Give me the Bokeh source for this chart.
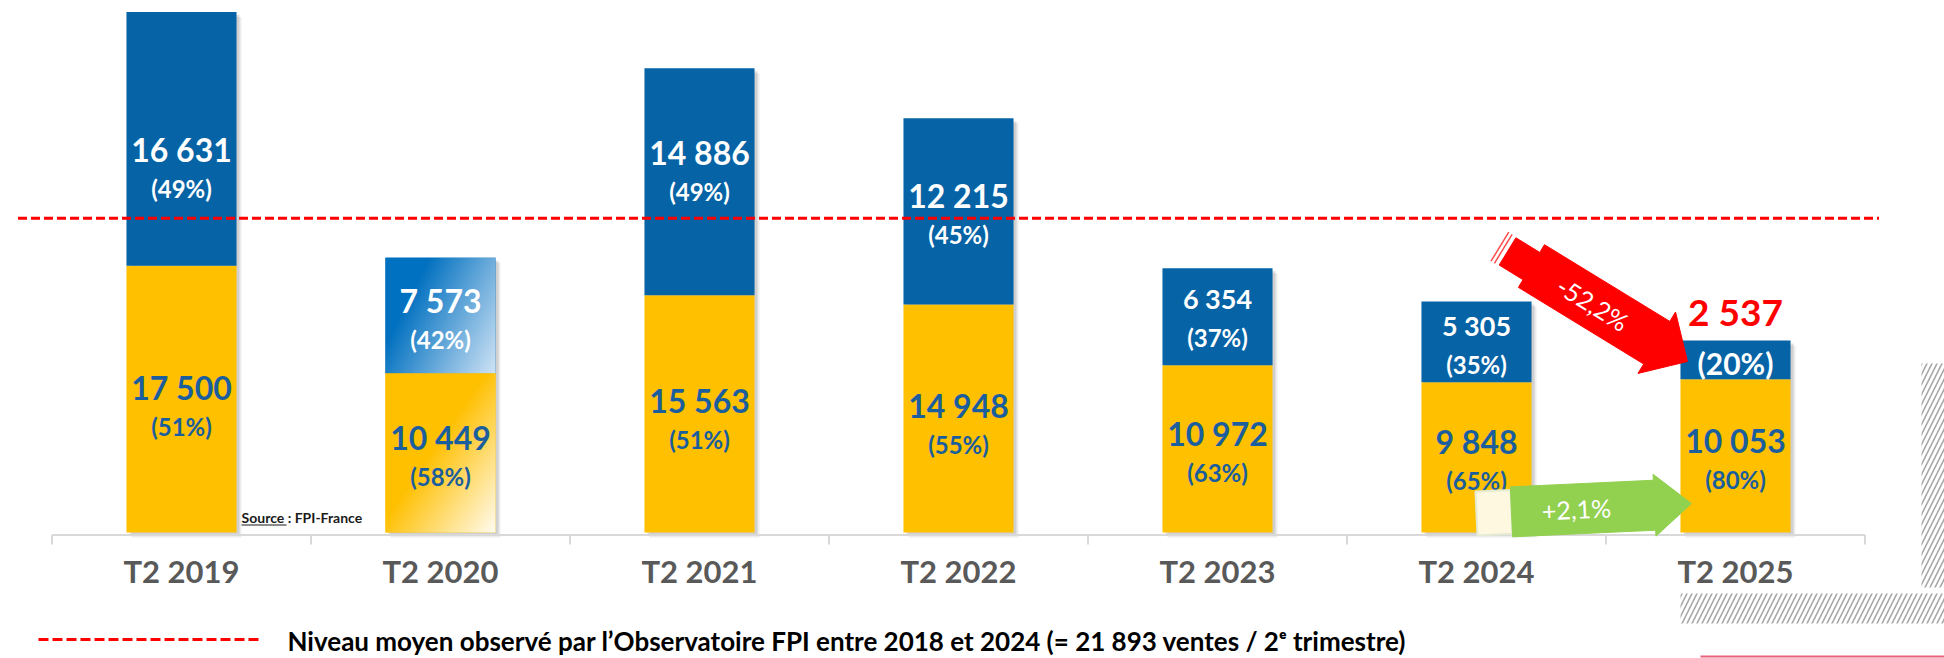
import numpy as np
from bokeh.plotting import figure
from bokeh.models import Range1d, ColumnDataSource
from bokeh.core.properties import value
from bokeh.embed import file_html
from bokeh.resources import INLINE

# ---------------- data ----------------
categories = ["T2 2019", "T2 2020", "T2 2021", "T2 2022", "T2 2023", "T2 2024", "T2 2025"]
ventes_accedants = [17500, 10449, 15563, 14948, 10972, 9848, 10053]      # yellow, bottom
ventes_investisseurs = [16631, 7573, 14886, 12215, 6354, 5305, 2537]     # blue, top
pct_accedants = [51, 58, 51, 55, 63, 65, 80]
pct_investisseurs = [49, 42, 49, 45, 37, 35, 20]
niveau_moyen_trace = 20600          # drawn level of the dashed line, as seen in the picture
evol_investisseurs = "-52,2%"
evol_accedants = "+2,1%"
source_text = "Source : FPI-France"
legend_text = "Niveau moyen observé par l’Observatoire FPI entre 2018 et 2024 (= 21 893 ventes / 2ᵉ trimestre)"

# ---------------- layout / style ----------------
W, H = 1944, 658
PAGE_X0, PAGE_Y0 = 0, 0     # Bokeh's page template has no body margin
PX_CAT = 259.0              # px per category
PX_PER_UNIT = 15.25 / 1000  # px per sale
CAT0_PAGE_X = 181.0
BASE_PAGE_Y = 532.0
BAR_W = 0.425

BLUE = "#0563A6"
YELLOW = "#FFC000"
NUM_ON_YELLOW = "#1B5E9E"
RED = "#FF0000"
GREEN = "#92D050"
FONT = value("Lato")


def dx(px):
    return px / PX_CAT


def dy(px):
    return px / PX_PER_UNIT


def page_x(d):
    return CAT0_PAGE_X + d * PX_CAT


def page_y(v):
    return BASE_PAGE_Y - v * PX_PER_UNIT


def from_page(px, py):
    return (px - CAT0_PAGE_X) / PX_CAT, (BASE_PAGE_Y - py) / PX_PER_UNIT


x_start = (PAGE_X0 - CAT0_PAGE_X) / PX_CAT
y_end = (BASE_PAGE_Y - PAGE_Y0) / PX_PER_UNIT

p = figure(width=W, height=H, output_backend="svg", toolbar_location=None,
           x_range=Range1d(x_start, x_start + W / PX_CAT),
           y_range=Range1d(y_end - H / PX_PER_UNIT, y_end),
           x_axis_location=None, y_axis_location=None, min_border=0)
p.outline_line_color = None
p.grid.visible = False
p.background_fill_color = "white"

xs = np.arange(len(categories), dtype=float)
yellow = np.array(ventes_accedants, dtype=float)
blue = np.array(ventes_investisseurs, dtype=float)
total = yellow + blue

# shadows
for off, a in [(5, 0.07), (3, 0.12)]:
    p.vbar(x=xs + dx(off), bottom=-dy(off), top=total - dy(off), width=BAR_W,
           fill_color="black", fill_alpha=a, line_color=None)

# stacked bars
p.vbar(x=xs, bottom=0, top=yellow, width=BAR_W, fill_color=YELLOW, line_color=None)
p.vbar(x=xs, bottom=yellow, top=total, width=BAR_W, fill_color=BLUE, line_color=None)


# gradient fill for T2 2020
def gradient_img(c0, c1, wu, wv, t0, span, nx=60, ny=160):
    u = np.linspace(0, 1, nx)[None, :]
    v = 1 - np.linspace(0, 1, ny)[:, None]     # row 0 = bottom
    t = np.clip((wu * u + wv * v - t0) / span, 0, 1)
    img = np.empty((ny, nx), dtype=np.uint32)
    view = img.view(dtype=np.uint8).reshape((ny, nx, 4))
    for k in range(3):
        view[..., k] = (c0[k] + (c1[k] - c0[k]) * t).astype(np.uint8)
    view[..., 3] = 255
    return img


gi = 1
img_blue = gradient_img((0, 112, 192), (206, 227, 245), 0.65, 0.35, 0.25, 0.75)
img_yel = gradient_img((255, 192, 0), (255, 251, 238), 0.5, 0.5, 0.45, 0.55)
p.image_rgba(image=[img_yel], x=xs[gi] - BAR_W / 2, y=0, dw=BAR_W, dh=yellow[gi])
p.image_rgba(image=[img_blue], x=xs[gi] - BAR_W / 2, y=yellow[gi], dw=BAR_W, dh=blue[gi])

# axis line and boundary ticks
p.segment(x0=[-0.5], y0=[-dy(2.5)], x1=[len(categories) - 0.5], y1=[-dy(2.5)],
          line_color="#D9D9D9", line_width=2)
edges = np.arange(len(categories) + 1) - 0.5
p.segment(x0=edges, y0=-dy(2.5), x1=edges, y1=-dy(12), line_color="#D9D9D9", line_width=2)

# average dashed line
p.segment(x0=[-0.5 - dx(34)], y0=[niveau_moyen_trace], x1=[len(categories) - 0.5 + dx(14)],
          y1=[niveau_moyen_trace], line_color=RED, line_width=3, line_dash="9 4")


def fmt(v):
    return f"{int(v):,}".replace(",", " ")


# ---------------- labels ----------------
blue_mid_frac = [0.62, 0.54, 0.46, 0.52, 0.52, 0.54, 0.58]
blue_num_px = [32, 32, 32, 32, 27, 27, 37]
lab = dict(x=[], y=[], text=[], size=[], color=[])


def add(x, y, t, s, c):
    lab["x"].append(x)
    lab["y"].append(y)
    lab["text"].append(t)
    lab["size"].append(f"{s}px")
    lab["color"].append(c)


last = len(categories) - 1
for i in range(len(categories)):
    ymid = 0.47 * yellow[i]
    add(xs[i], ymid + dy(20), fmt(yellow[i]), 32, NUM_ON_YELLOW)
    add(xs[i], ymid - dy(19), f"({pct_accedants[i]}%)", 24, NUM_ON_YELLOW)
    if i < last:
        bmid = total[i] - blue_mid_frac[i] * blue[i]
        add(xs[i], bmid + dy(20), fmt(blue[i]), blue_num_px[i], "white")
        add(xs[i], bmid - dy(19), f"({pct_investisseurs[i]}%)", 24, "white")
    else:
        add(xs[i], total[i] + dy(29), fmt(blue[i]), blue_num_px[i], RED)
        add(xs[i], total[i] - blue_mid_frac[i] * blue[i], f"({pct_investisseurs[i]}%)", 30, "white")

p.text(x="x", y="y", text="text", text_font_size="size", text_color="color",
       source=ColumnDataSource(lab), text_font=FONT, text_font_style="bold",
       text_align="center", text_baseline="middle")

# category labels
p.text(x=xs, y=[-dy(38)] * len(xs), text=categories, text_font=FONT, text_font_style="bold",
       text_font_size="31px", text_color="#595959", text_align="center", text_baseline="middle")

# source
sx = 0 + BAR_W / 2 + dx(5)
p.text(x=[sx], y=[dy(15)], text=[source_text], text_font=FONT, text_font_style="bold",
       text_font_size="14px", text_color="#1A1A1A", text_align="left", text_baseline="middle")
p.segment(x0=[sx], y0=[dy(7.5)], x1=[sx + dx(45)], y1=[dy(7.5)], line_color="#1A1A1A", line_width=1.2)


# ---------------- arrows ----------------
def arrow_poly(tail, tip, profile):
    tx, ty = tail
    vx, vy = tip[0] - tx, tip[1] - ty
    L = np.hypot(vx, vy)
    ux, uy = vx / L, vy / L
    nx, ny = -uy, ux
    xs_, ys_ = [], []
    for s, w in profile(L):
        px_ = tx + s * ux + w * nx
        py_ = ty + s * uy + w * ny
        dxv, dyv = from_page(px_, py_)
        xs_.append(dxv)
        ys_.append(dyv)
    return xs_, ys_, L, (ux, uy)


def red_profile(L):
    return [(0, -16), (28, -16), (28, -25), (L - 36, -25), (L - 36, -36), (L, 0),
            (L - 36, 36), (L - 36, 25), (28, 25), (28, 16), (0, 16)]


red_tail = (page_x(5 + BAR_W / 2) - 24, page_y(total[5]) - 50)
red_tip = (page_x(6 - BAR_W / 2) + 7, page_y(total[6]) + 21)
rx, ry, rL, (rux, ruy) = arrow_poly(red_tail, red_tip, red_profile)
p.patch(rx, ry, fill_color=RED, line_color=RED, line_width=1)
# tail stripes
for off in (-5, -9):
    sx0, sy0 = from_page(red_tail[0] + off * rux - 17 * (-ruy), red_tail[1] + off * ruy - 17 * rux)
    sx1, sy1 = from_page(red_tail[0] + off * rux + 17 * (-ruy), red_tail[1] + off * ruy + 17 * rux)
    p.segment(x0=[sx0], y0=[sy0], x1=[sx1], y1=[sy1], line_color=RED, line_width=1.5, line_alpha=0.7)
tx_, ty_ = from_page(red_tail[0] + 100 * rux, red_tail[1] + 100 * ruy)
p.text(x=[tx_], y=[ty_], text=[evol_investisseurs], angle=-np.arctan2(ruy, rux),
       text_font=FONT, text_font_size="25px", text_color="white",
       text_align="center", text_baseline="middle")


def green_profile(L):
    return [(35, -25), (L - 37, -25), (L - 37, -31), (L, 0), (L - 37, 31), (L - 37, 25), (35, 25)]


def pale_profile(L):
    return [(0, -22), (35, -22), (35, 22), (0, 22)]


g_tail = (page_x(5), page_y(0) - 19)
g_tip = (page_x(6 - BAR_W / 2) + 11, page_y(0) - 29)
px_, py_, gL, (gux, guy) = arrow_poly(g_tail, g_tip, pale_profile)
p.patch(px_, py_, fill_color="#FFF8E1", line_color="#E4EBD2", line_width=2)
gx, gy, gL, _ = arrow_poly(g_tail, g_tip, green_profile)
p.patch(gx, gy, fill_color=GREEN, line_color=GREEN, line_width=1)
tx_, ty_ = from_page(g_tail[0] + 100 * gux, g_tail[1] + 100 * guy)
p.text(x=[tx_], y=[ty_], text=[evol_accedants], angle=-np.arctan2(guy, gux),
       text_font=FONT, text_font_size="25px", text_color="white",
       text_align="center", text_baseline="middle")

# ---------------- legend at bottom ----------------
lx0, ly = from_page(38, 639)
lx1, _ = from_page(259, 639)
p.segment(x0=[lx0], y0=[ly], x1=[lx1], y1=[ly], line_color=RED, line_width=3, line_dash="10 4")
tx_, ty_ = from_page(287, 640)
p.text(x=[tx_], y=[ty_], text=[legend_text], text_font=FONT, text_font_style="bold",
       text_font_size="26px", text_color="#000000", text_align="left", text_baseline="middle")

# ---------------- decorative hatching (bottom right) ----------------
hl, ht = from_page(1921, 363)
hr, hb = from_page(1944, 587)
p.quad(left=[hl], right=[hr], top=[ht], bottom=[hb], fill_color=None, line_color=None,
       hatch_pattern="/", hatch_color="#A6A6A6", hatch_weight=1.6, hatch_scale=10)
hl, ht = from_page(1680, 593)
hr, hb = from_page(1944, 623)
p.quad(left=[hl], right=[hr], top=[ht], bottom=[hb], fill_color=None, line_color=None,
       hatch_pattern="/", hatch_color="#A6A6A6", hatch_weight=1.6, hatch_scale=10)
pl0, pyl = from_page(1700, 656)
pl1, _ = from_page(1944, 656)
p.segment(x0=[pl0], y0=[pyl], x1=[pl1], y1=[pyl], line_color="#E8607A", line_width=2)

open("out.html", "w").write(file_html(p, INLINE))
